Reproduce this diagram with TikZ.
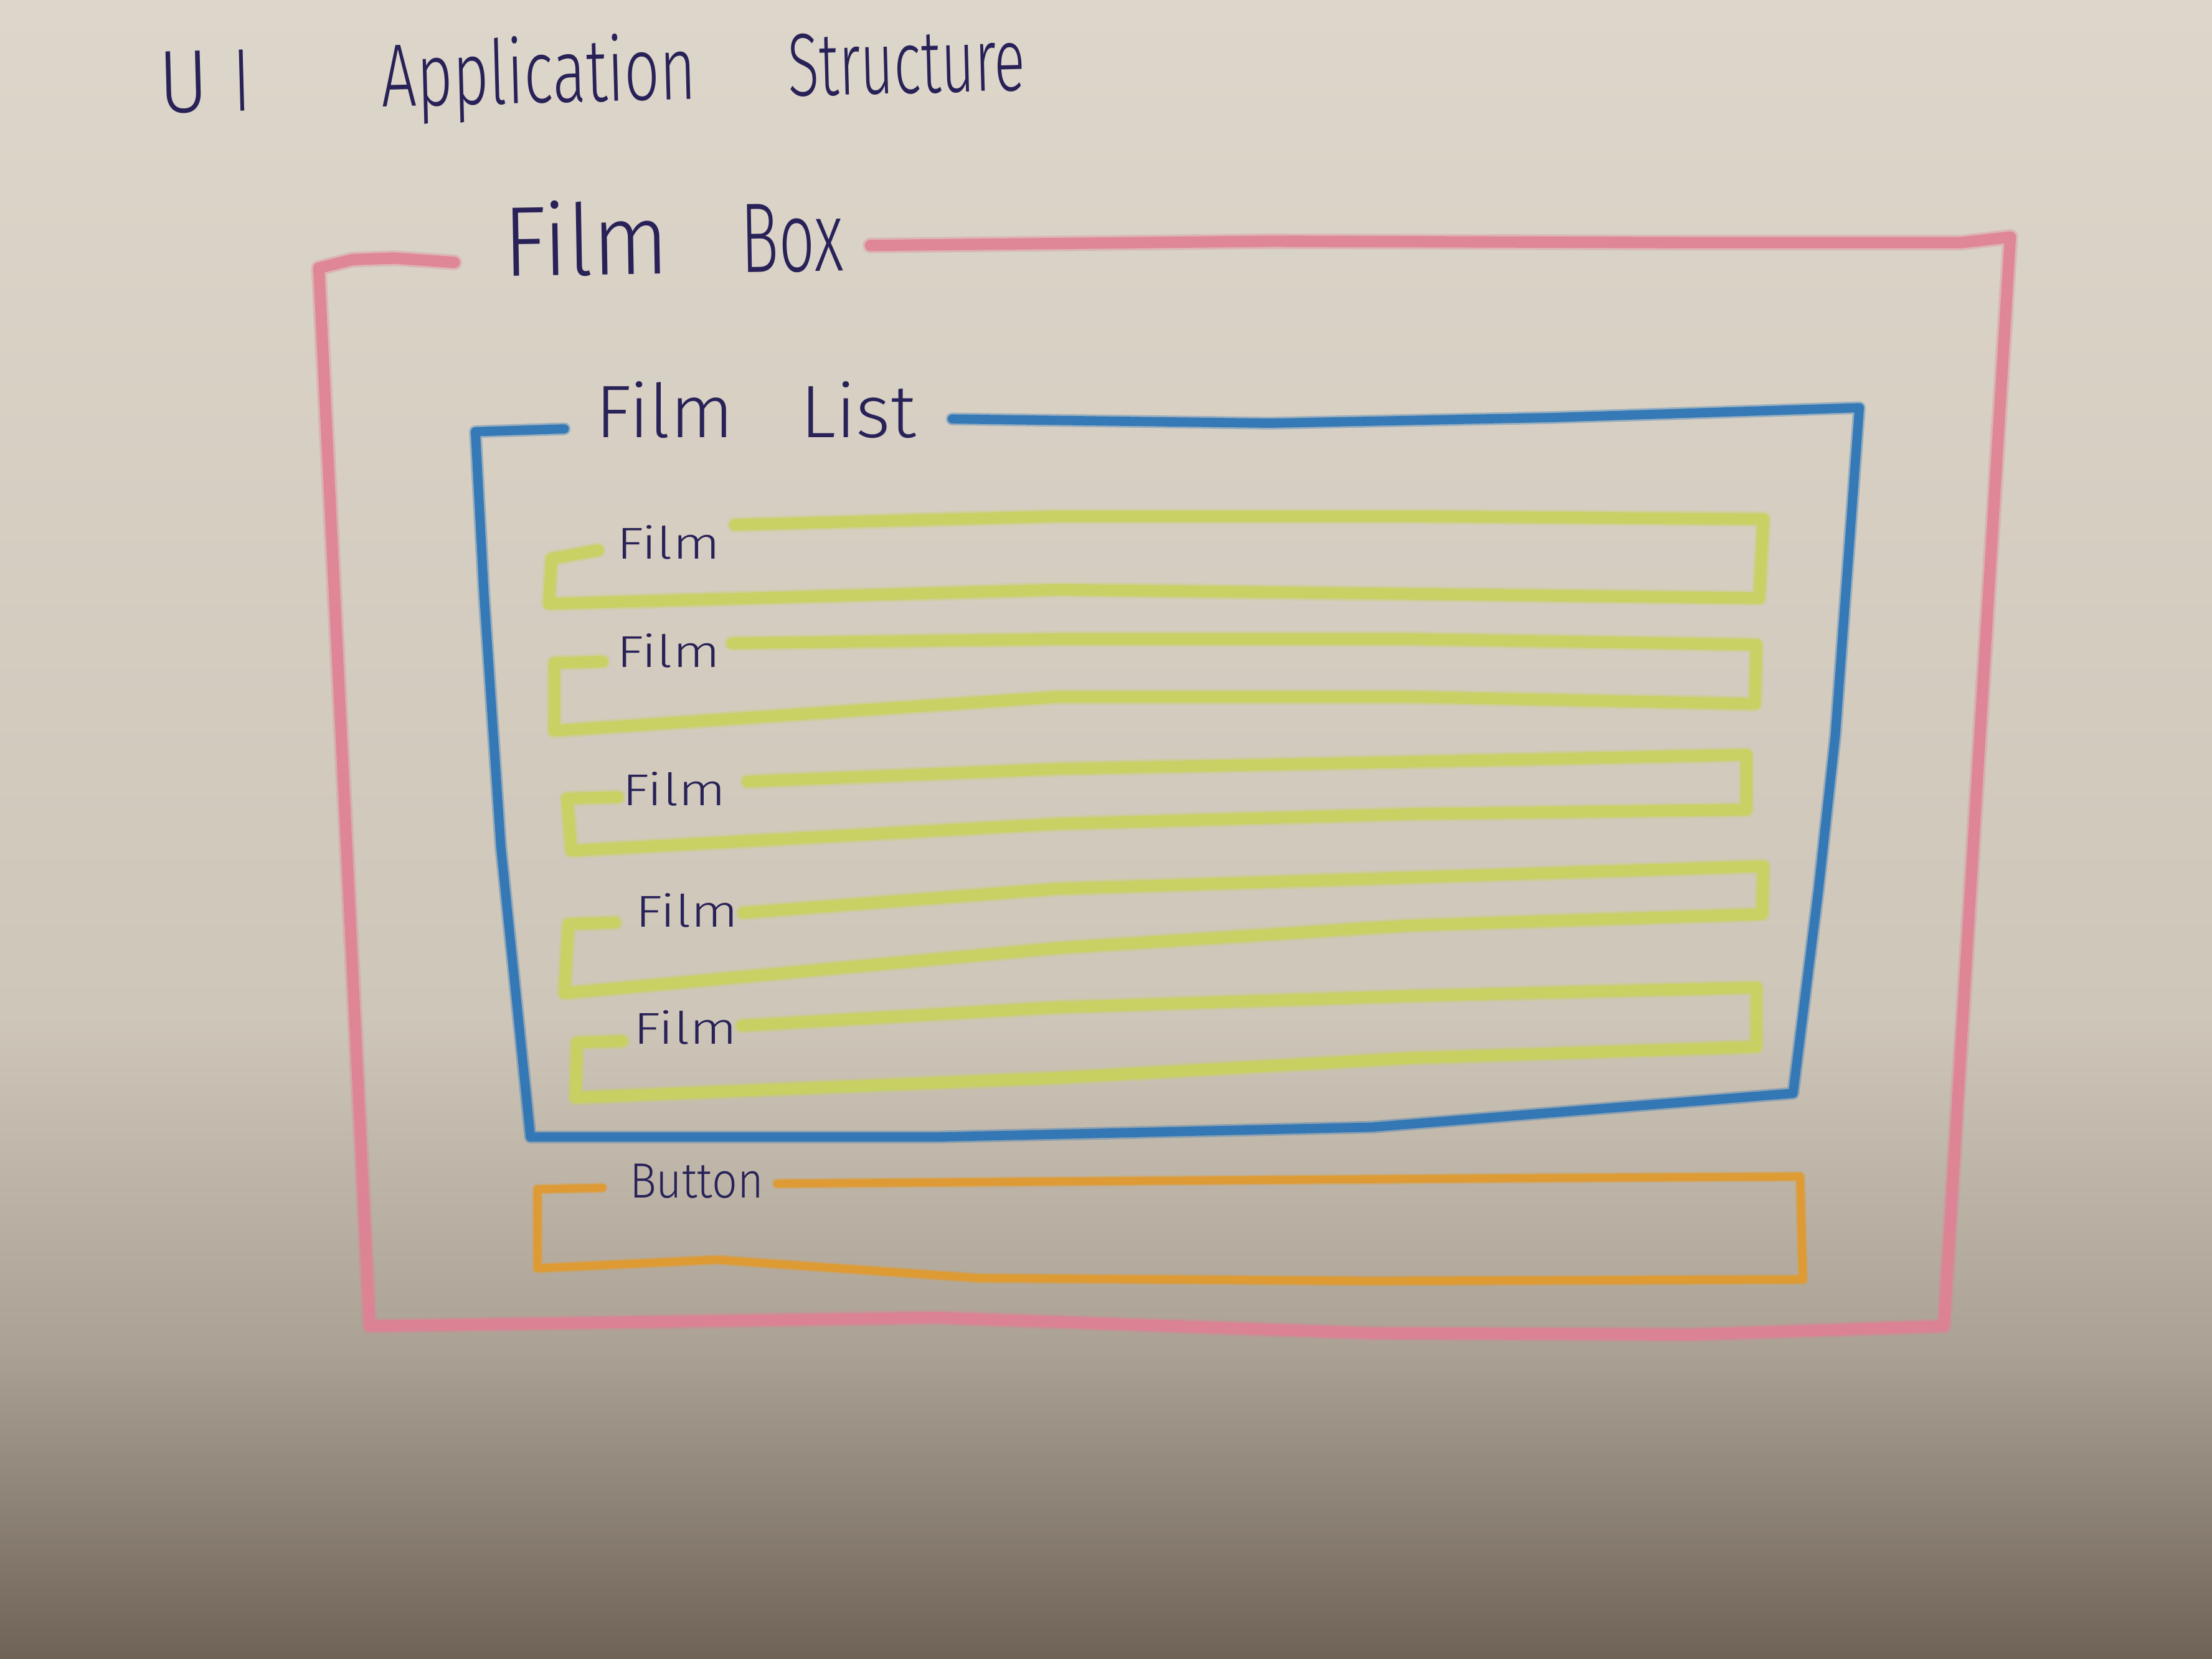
\documentclass[tikz,border=0pt]{standalone}
\usepackage{fontspec}
\setmainfont{Fira Sans Light}
\usepackage{graphicx}
\definecolor{ink}{RGB}{40,34,88}
\definecolor{pinkc}{RGB}{224,128,148}
\definecolor{bluec}{RGB}{40,114,182}
\definecolor{yelc}{RGB}{200,210,92}
\definecolor{orac}{RGB}{226,154,44}
\definecolor{bga}{RGB}{221,214,202}
\definecolor{bgb}{RGB}{206,198,185}
\definecolor{bgc}{RGB}{170,161,148}
\definecolor{bgd}{RGB}{110,99,86}
\begin{document}
\begin{tikzpicture}[x=0.02cm,y=-0.02cm,
  crayon/.style={line cap=round, line join=round, opacity=0.88},
  pinkline/.style={crayon, draw=pinkc, line width=0.16cm,
    preaction={draw=pinkc, line width=0.22cm, opacity=0.35, line cap=round, line join=round}},
  blueline/.style={crayon, draw=bluec, line width=0.13cm,
    preaction={draw=bluec, line width=0.18cm, opacity=0.35, line cap=round, line join=round}},
  yelline/.style={crayon, draw=yelc, line width=0.16cm,
    preaction={draw=yelc, line width=0.22cm, opacity=0.35, line cap=round, line join=round}},
  oraline/.style={crayon, draw=orac, line width=0.11cm,
    preaction={draw=orac, line width=0.15cm, opacity=0.35, line cap=round, line join=round}},
  inktext/.style={text=ink, inner sep=0pt, anchor=base west},
  bigfont/.style={font=\fontsize{36}{40}\selectfont},
  boxfont/.style={font=\fontsize{40}{44}\selectfont},
  listfont/.style={font=\fontsize{30}{34}\selectfont},
  filmfont/.style={font=\fontsize{18}{20}\selectfont},
  btnfont/.style={font=\fontsize{20}{22}\selectfont}]
\useasboundingbox (0,0) rectangle (1568,1176);
% paper background
\shade[top color=bga, bottom color=bgb] (0,0) rectangle (1568,722);
\shade[top color=bgb, bottom color=bgc] (0,720) rectangle (1568,962);
\shade[top color=bgc, bottom color=bgd] (0,960) rectangle (1568,1176);

% title
\node[inktext, bigfont, rotate=1.5] (title) at (113,80)
  {\scalebox{.85}[1]{U}\hspace{0.35cm}\scalebox{.7}[1]{I}\hspace{1.85cm}\scalebox{.7}[1]{Application}\hspace{1.3cm}\scalebox{.65}[1]{Structure}};

% Film Box (pink)
\node[inktext, boxfont, rotate=1] (filmbox) at (357,196)
  {\scalebox{.9}[1]{Film}\hspace{1.02cm}\scalebox{.64}[1]{Box}};
\draw[pinkline] (617,174) -- (900,171) -- (1200,172) -- (1390,172) -- (1425,168)
  -- (1378,940) -- (1200,946) -- (972,945) -- (663,934) -- (262,940)
  -- (226,190) -- (250,184) -- (280,183) -- (322,186);

% Film List (blue)
\node[inktext, listfont] (filmlist) at (422,310)
  {Film\hspace{0.95cm}List};
\draw[blueline] (675,297) -- (900,300) -- (1100,296) -- (1318,289)
  -- (1301,521) -- (1289,631) -- (1271,775) -- (972,799) -- (663,806) -- (376,806)
  -- (355,600) -- (343,420) -- (337,306) -- (400,304);

% Films (yellow-green)
\node[inktext, filmfont] (f1) at (437,396) {\scalebox{1.25}[1]{Film}};
\draw[yelline] (521,372) -- (750,366) -- (1000,366) -- (1250,368) -- (1247,424)
  -- (1000,421) -- (750,418) -- (389,428) -- (391,396) -- (424,390);

\node[inktext, filmfont] (f2) at (437,473) {\scalebox{1.25}[1]{Film}};
\draw[yelline] (519,456) -- (750,453) -- (1000,453) -- (1245,457) -- (1244,499)
  -- (1000,494) -- (750,494) -- (393,518) -- (393,470) -- (427,469);

\node[inktext, filmfont] (f3) at (441,571) {\scalebox{1.25}[1]{Film}};
\draw[yelline] (530,554) -- (750,545) -- (1000,540) -- (1238,535) -- (1238,574)
  -- (1000,577) -- (750,584) -- (405,603) -- (402,566) -- (438,565);

\node[inktext, filmfont] (f4) at (450,657) {\scalebox{1.25}[1]{Film}};
\draw[yelline] (527,647) -- (750,630) -- (1000,622) -- (1250,614) -- (1249,648)
  -- (1000,656) -- (750,672) -- (400,704) -- (403,655) -- (436,654);

\node[inktext, filmfont] (f5) at (449,740) {\scalebox{1.25}[1]{Film}};
\draw[yelline] (526,727) -- (750,714) -- (1000,706) -- (1245,700) -- (1245,742)
  -- (1000,750) -- (750,764) -- (408,778) -- (409,739) -- (441,738);

% Button (orange)
\node[inktext, btnfont] (button) at (446,849) {\scalebox{.9}[1]{Button}};
\draw[oraline] (551,839) -- (818,837) -- (1100,835) -- (1276,834)
  -- (1278,907) -- (972,908) -- (694,906) -- (508,893) -- (381,899)
  -- (381,843) -- (427,842);
\end{tikzpicture}
\end{document}
